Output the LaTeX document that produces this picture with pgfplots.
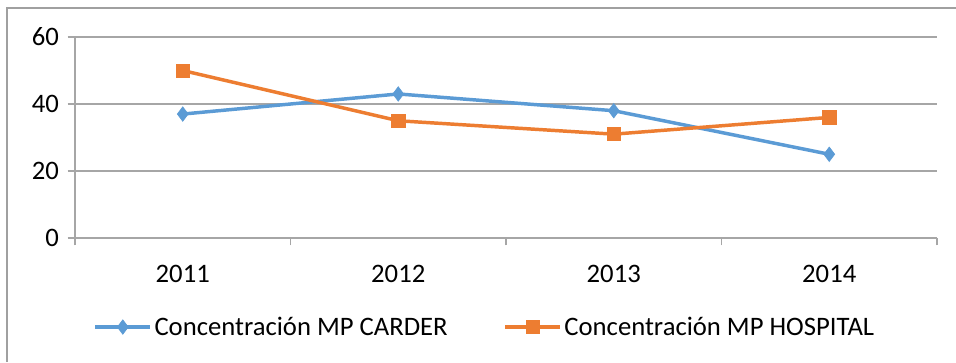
\documentclass[border=0pt]{standalone}
\usepackage{pgfplots}
\pgfplotsset{compat=1.18}
\usepackage{fontspec}
\setmainfont{Carlito}
\definecolor{cblue}{HTML}{5B9BD5}
\definecolor{corange}{HTML}{ED7D31}
\definecolor{gridg}{HTML}{A6A6A6}
\definecolor{frameg}{HTML}{A0A0A0}
\begin{document}
\begin{tikzpicture}
\useasboundingbox (0,0) rectangle (717pt,271.5pt);
\fill[white] (0,0) rectangle (717pt,271.5pt);
\draw[frameg, line width=1.2pt] (5.25pt,0) -- (5.25pt,265.5pt) -- (717pt,265.5pt);
\begin{axis}[
  at={(56.25pt,93pt)}, anchor=south west,
  scale only axis, width=646.5pt, height=150.75pt,
  xmin=-0.5, xmax=3.5, ymin=0, ymax=60,
  ytick={0,20,40,60},
  xtick={0,1,2,3},
  xticklabels={2011,2012,2013,2014},
  minor xtick={-0.5,0.5,1.5,2.5,3.5},
  axis x line*=bottom, axis y line*=left,
  axis line style={gridg, line width=0.9pt, -},
  ymajorgrids, grid style={gridg, line width=0.9pt},
  major tick style={gridg, line width=0.9pt},
  minor tick style={gridg, line width=0.9pt},
  tick align=outside,
  x tick style={draw=none},
  minor x tick style={draw=gridg},
  major tick length=5.5pt, minor tick length=5.5pt,
  tick label style={font=\fontsize{20}{23}\selectfont},
  /pgf/number format/assume math mode=true,
  yticklabel style={xshift=-3pt},
  xticklabel style={yshift=-11pt},
  legend style={at={(0.476,-0.443)}, anchor=center, draw=none, fill=none,
    font=\fontsize{20}{23}\selectfont, legend columns=2,
    /tikz/every even column/.append style={column sep=40pt}},
  legend image code/.code={\draw[mark repeat=2,mark phase=2, line width=2.6pt] plot coordinates {(0cm,0cm) (0.72cm,0cm) (1.44cm,0cm)};},
  clip=false,
]
\addplot[cblue, line width=2.6pt, mark=diamond*, mark size=5.4pt, mark options={line width=0.5pt, fill=cblue}] coordinates {(0,37) (1,43) (2,38) (3,25)};
\addlegendentry{Concentración MP CARDER}
\addplot[corange, line width=2.6pt, mark=square*, mark size=5pt, mark options={line width=0.5pt, fill=corange}] coordinates {(0,50) (1,35) (2,31) (3,36)};
\addlegendentry{Concentración MP HOSPITAL}
\end{axis}
\end{tikzpicture}
\end{document}
